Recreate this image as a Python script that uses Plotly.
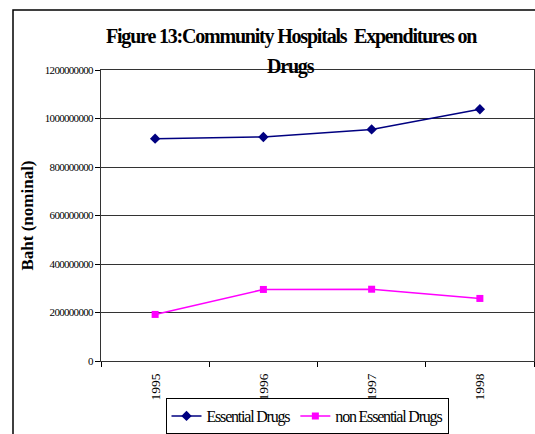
import plotly.graph_objects as go

years = ["1995", "1996", "1997", "1998"]
essential_drugs = [917_000_000, 924_000_000, 955_000_000, 1_038_000_000]
non_essential_drugs = [192_000_000, 295_000_000, 296_000_000, 258_000_000]
y_ticks = [0, 200_000_000, 400_000_000, 600_000_000, 800_000_000, 1_000_000_000, 1_200_000_000]

serif = "Liberation Serif, Times New Roman, serif"


def narrow(text, spacing):
    """Tighten letter spacing to get the condensed Times look."""
    return f'<span style="letter-spacing:{spacing}px">{text}</span>'


fig = go.Figure()
fig.add_trace(go.Scatter(
    x=years, y=essential_drugs, name=narrow("Essential Drugs", -1.2), mode="lines+markers",
    line=dict(color="#000080", width=1.5),
    marker=dict(symbol="diamond", size=8, color="#000080"),
))
fig.add_trace(go.Scatter(
    x=years, y=non_essential_drugs, name=narrow("non Essential Drugs", -1.2), mode="lines+markers",
    line=dict(color="#FF00FF", width=1.5),
    marker=dict(symbol="square", size=7, color="#FF00FF"),
))

W, H = 535, 434
ml, mr, mt, mb = 101, 1, 70, 73
pw, ph = W - ml - mr, H - mt - mb


def px_x(x):
    return (x - ml) / pw


def px_y(y):
    return (H - mb - y) / ph


# outer chart frame
fig.add_shape(type="rect", xref="paper", yref="paper",
              x0=px_x(13), x1=px_x(545), y0=px_y(445), y1=px_y(10),
              line=dict(color="black", width=1.5), fillcolor="rgba(0,0,0,0)", layer="below")

# two-line chart title
title_font = dict(family=serif, size=20, color="black")
fig.add_annotation(text="<b>" + narrow("Figure 13:Community Hospitals  Expenditures on", -1.2) + "</b>",
                   xref="paper", yref="paper", x=px_x(291), y=px_y(50), xanchor="center", yanchor="bottom",
                   showarrow=False, font=title_font)
fig.add_annotation(text="<b>" + narrow("Drugs", -1.2) + "</b>",
                   xref="paper", yref="paper", x=px_x(291), y=px_y(80), xanchor="center", yanchor="bottom",
                   showarrow=False, font=title_font)

fig.update_layout(
    width=W, height=H,
    margin=dict(l=ml, r=mr, t=mt, b=mb, autoexpand=False),
    paper_bgcolor="white", plot_bgcolor="white",
    font=dict(family=serif, color="black"),
    showlegend=True,
    legend=dict(
        orientation="h", x=px_x(307), xanchor="center", y=px_y(398), yanchor="top",
        bordercolor="black", borderwidth=1, bgcolor="white",
        font=dict(family=serif, size=16, color="black"),
        itemwidth=30, tracegroupgap=0,
    ),
    xaxis=dict(
        type="category", range=[-0.5, 3.5],
        showline=True, linecolor="#333333", linewidth=1, mirror=True,
        ticks="outside", ticklen=5, tickcolor="black", tickson="boundaries",
        tickangle=-90, tickfont=dict(family=serif, size=13.5, color="black"),
        ticklabelstandoff=6,
        showgrid=False,
    ),
    yaxis=dict(
        range=[0, 1_200_000_000], tickvals=y_ticks,
        ticktext=[narrow(str(v), -0.7) for v in y_ticks],
        showline=True, linecolor="#333333", linewidth=1, mirror=True,
        ticks="outside", ticklen=5, tickcolor="black",
        showgrid=True, gridcolor="#333333", gridwidth=1,
        tickfont=dict(family=serif, size=11, color="black"),
        title=dict(text="<b>Baht (nominal)</b>", font=dict(family=serif, size=17, color="black"), standoff=6),
        zeroline=False,
    ),
)

fig.write_html("out.html")
